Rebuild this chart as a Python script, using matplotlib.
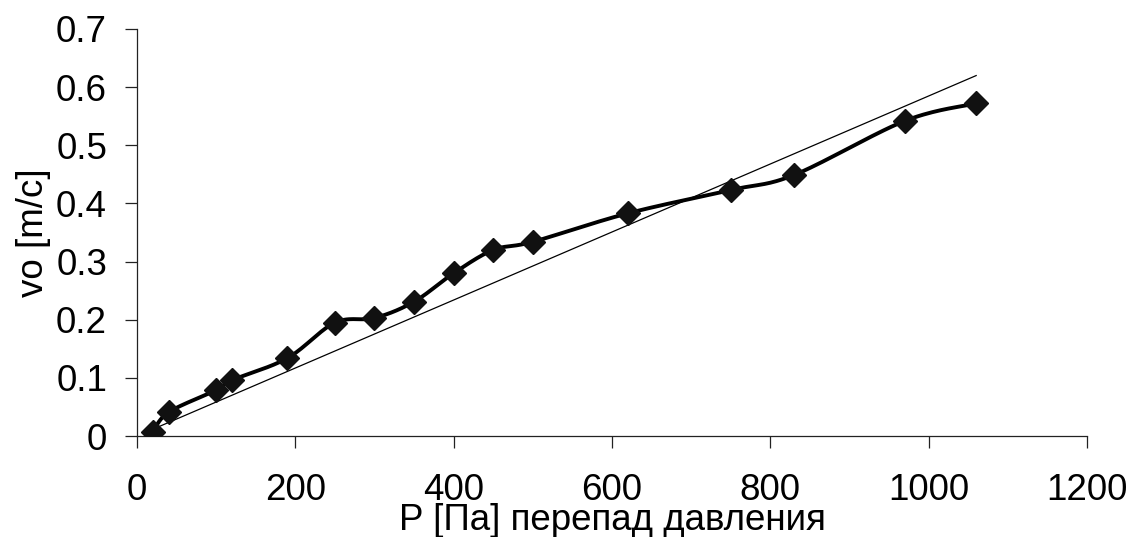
import numpy as np
import matplotlib
matplotlib.use("Agg")
import matplotlib.pyplot as plt

# measured points
pressure = [20, 40, 100, 120, 190, 250, 300, 350, 400, 450, 500, 620, 750, 830, 970, 1060]
velocity = [0.007, 0.041, 0.079, 0.096, 0.134, 0.195, 0.203, 0.231, 0.280, 0.320,
            0.334, 0.383, 0.423, 0.449, 0.542, 0.572]

x_ticks = [0, 200, 400, 600, 800, 1000, 1200]
y_ticks = [0, 0.1, 0.2, 0.3, 0.4, 0.5, 0.6, 0.7]
y_tick_labels = ["0", "0.1", "0.2", "0.3", "0.4", "0.5", "0.6", "0.7"]

x_label = "P [Па] перепад давления"
y_label = "vo [m/c]"


# function for smoothed line (catmull-rom through bezier segments, like excel)
def smooth_line(xs, ys, steps=30):
    pts = np.column_stack([xs, ys]).astype(float)
    padded = np.vstack([pts[0], pts, pts[-1]])
    out = []
    t = np.linspace(0, 1, steps)[:, None]
    for i in range(1, len(padded) - 2):
        p0, p1, p2, p3 = padded[i - 1], padded[i], padded[i + 1], padded[i + 2]
        c1 = p1 + (p2 - p0) / 6.0
        c2 = p2 - (p3 - p1) / 6.0
        seg = ((1 - t) ** 3) * p1 + 3 * ((1 - t) ** 2) * t * c1 + 3 * (1 - t) * t ** 2 * c2 + t ** 3 * p2
        out.append(seg if i == 1 else seg[1:])
    curve = np.vstack(out)
    return curve[:, 0], curve[:, 1]


# linear trend through origin
def trend_through_origin(xs, ys):
    xs = np.asarray(xs, dtype=float)
    ys = np.asarray(ys, dtype=float)
    k = np.sum(xs * ys) / np.sum(xs * xs)
    return k


def plot_chart():
    plt.rcParams['font.family'] = ['Liberation Sans', 'DejaVu Sans']
    fs = 26.5
    fig = plt.figure(figsize=(11.33, 5.37), dpi=100)
    ax = fig.add_axes([0.1209, 0.188, 0.8385, 0.758])

    sx, sy = smooth_line(pressure, velocity)
    ax.plot(sx, sy, color='black', lw=2.8, zorder=3)
    ax.plot(pressure, velocity, linestyle='none', marker='D', markersize=12.5,
            color='#111111', zorder=4)

    k = trend_through_origin(pressure, velocity)
    tx = np.array([pressure[0], pressure[-1]], dtype=float)
    ax.plot(tx, k * tx, color='black', lw=0.9, zorder=2)

    ax.set_xlim(0, 1200)
    ax.set_ylim(0, 0.7)
    ax.set_xticks(x_ticks)
    ax.set_yticks(y_ticks)
    ax.set_yticklabels(y_tick_labels)
    ax.spines['top'].set_visible(False)
    ax.spines['right'].set_visible(False)
    for s in ['left', 'bottom']:
        ax.spines[s].set_linewidth(0.9)
        ax.spines[s].set_color('#222222')
    ax.tick_params(axis='both', direction='out', length=8.5, width=0.9,
                   color='#222222', labelsize=fs)
    ax.tick_params(axis='x', pad=18)
    ax.tick_params(axis='y', pad=13)
    ax.set_xlabel(x_label, fontsize=fs, labelpad=-3.5)
    ax.set_ylabel(y_label, fontsize=fs, labelpad=4)
    ax.set_clip_on(False)

    fig.savefig('out.png', dpi=100)


if __name__ == "__main__":
    plot_chart()
